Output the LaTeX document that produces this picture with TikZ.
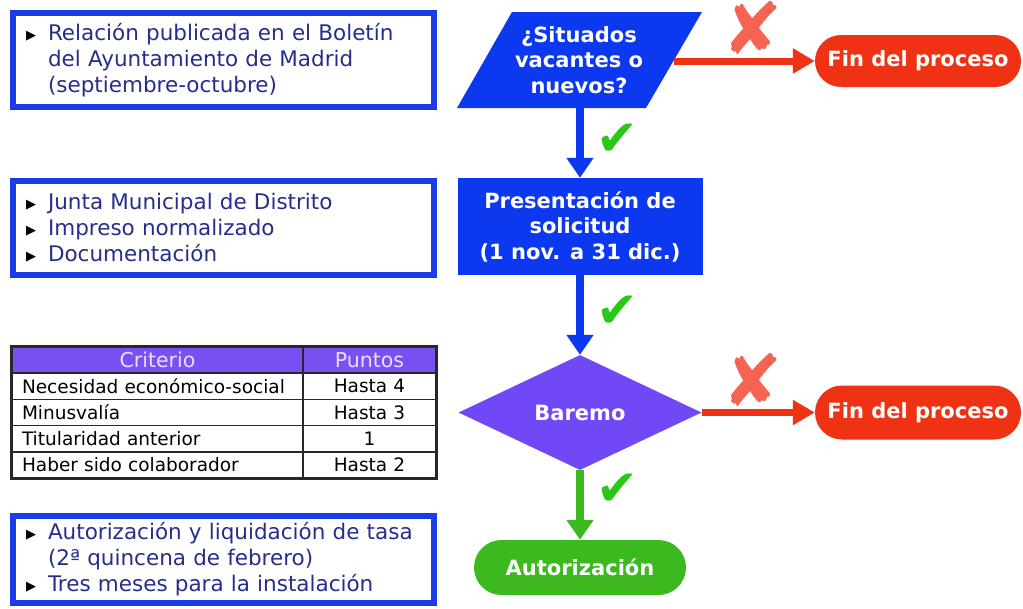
\documentclass[tikz,border=0pt]{standalone}
\usepackage{fontspec}
\setmainfont{DejaVu Sans}
\usetikzlibrary{shapes.geometric,shapes.misc,arrows.meta}
\definecolor{flowblue}{RGB}{12,56,240}
\definecolor{boxblue}{RGB}{28,60,232}
\definecolor{txtblue}{RGB}{38,46,140}
\definecolor{flowpurple}{RGB}{112,72,245}
\definecolor{hdrpurple}{RGB}{122,80,242}
\definecolor{hdrtext}{RGB}{232,222,255}
\definecolor{flowred}{RGB}{240,50,20}
\definecolor{xred}{RGB}{245,100,80}
\definecolor{flowgreen}{RGB}{60,185,30}
\definecolor{checkgreen}{RGB}{40,200,20}
\definecolor{tblline}{RGB}{40,40,40}
\newcommand{\mybul}{\makebox[22pt][l]{\raisebox{1pt}{\color{black}\fontsize{13}{13}\selectfont ▶}}}
\newcommand{\myind}{\hspace*{22pt}}
\begin{document}
\begin{tikzpicture}[x=1pt,y=-1pt,
  infobox/.style={draw=boxblue, line width=6pt, fill=white, text=txtblue,
    font=\fontsize{21.5}{26}\selectfont, align=left, text width=395pt,
    inner xsep=13pt, inner ysep=0pt},
  flowtext/.style={text=white, font=\bfseries\fontsize{21}{25.5}\selectfont, align=center},
  pill/.style={rounded rectangle, flowtext, inner sep=0pt},
  cellA/.style={draw=tblline, line width=1.5pt, minimum height=26.2pt, inner ysep=0pt,
    text width=271pt, inner xsep=10pt, align=left, font=\fontsize{18.5}{20}\selectfont},
  cellB/.style={draw=tblline, line width=1.5pt, minimum height=26.2pt, inner ysep=0pt,
    text width=133pt, inner xsep=0pt, align=center, font=\fontsize{18.5}{20}\selectfont},
  hdr/.style={fill=hdrpurple, text=hdrtext, font=\fontsize{20.5}{22}\selectfont},
  bluearrow/.style={draw=flowblue, line width=8pt, -{Triangle[width=26pt,length=20pt]}},
  greenarrow/.style={draw=flowgreen, line width=8pt, -{Triangle[width=26pt,length=20pt]}},
  redarrow/.style={draw=flowred, line width=7pt, -{Triangle[width=24pt,length=22pt]}},
  checkmark/.style={text=checkgreen, font=\fontsize{50}{50}\selectfont, inner sep=0pt},
  xmark/.style={text=xred, font=\fontsize{72}{72}\selectfont, inner sep=0pt}
]
\useasboundingbox (0,0) rectangle (1023,608);

% left info boxes
\node[infobox, minimum height=94pt] (b1) at (223.5,60)
  {\mybul Relación publicada en el Boletín\\ \myind del Ayuntamiento de Madrid\\ \myind (septiembre-octubre)};
\node[infobox, minimum height=94pt] (b2) at (223.5,228)
  {\mybul Junta Municipal de Distrito\\ \mybul Impreso normalizado\\ \mybul Documentación};
\node[infobox, minimum height=87pt] (b4) at (223.5,559.5)
  {\mybul Autorización y liquidación de tasa\\ \myind (2ª quincena de febrero)\\ \mybul Tres meses para la instalación};

% table
\node[cellA, hdr, align=center] (h1) at (157.5,360.1) {Criterio};
\node[cellB, hdr] (h2) at (369.5,360.1) {Puntos};
\node[cellA] (r1a) at (157.5,386.3) {Necesidad económico-social};
\node[cellB] (r1b) at (369.5,386.3) {Hasta 4};
\node[cellA] (r2a) at (157.5,412.5) {Minusvalía};
\node[cellB] (r2b) at (369.5,412.5) {Hasta 3};
\node[cellA] (r3a) at (157.5,438.7) {Titularidad anterior};
\node[cellB] (r3b) at (369.5,438.7) {1};
\node[cellA] (r4a) at (157.5,464.9) {Haber sido colaborador};
\node[cellB] (r4b) at (369.5,464.9) {Hasta 2};
\draw[tblline, line width=2.5pt] (h1.north west) rectangle (r4b.south east);

% flowchart
\fill[flowblue] (512,12) -- (702,12) -- (646,108) -- (457,108) -- cycle;
\node[flowtext] (q) at (579,60) {¿Situados\\vacantes o\\nuevos?};
\coordinate (qs) at (580,108);
\coordinate (qe) at (674,61);
\node[rectangle, fill=flowblue, flowtext, minimum width=245pt, minimum height=97pt, inner sep=0pt] (p) at (580,226.5)
  {Presentación de\\solicitud\\(1 nov. a 31 dic.)};
\node[diamond, fill=flowpurple, flowtext, minimum width=243pt, minimum height=115pt, inner sep=0pt] (d) at (580,412.5)
  {Baremo};
\node[pill, fill=flowred, minimum width=206pt, minimum height=52pt] (f1) at (918,61) {Fin del proceso};
\node[pill, fill=flowred, minimum width=206pt, minimum height=54pt] (f2) at (918,412.5) {Fin del proceso};
\node[pill, fill=flowgreen, minimum width=212pt, minimum height=55pt] (a) at (580,567.5) {Autorización};

\draw[bluearrow] (qs) -- (p.north);
\draw[bluearrow] (p.south) -- (d.north);
\draw[greenarrow] (d.south) -- (a.north);
\draw[redarrow] (qe) -- (f1.west);
\draw[redarrow] (d.east) -- (f2.west);

\node[checkmark] (k1) at (617,140) {✔};
\node[checkmark] (k2) at (617,312) {✔};
\node[checkmark] (k3) at (617,490) {✔};
\node[xmark] (x1) at (753,28) {✘};
\node[xmark] (x2) at (753,380) {✘};
\end{tikzpicture}
\end{document}
